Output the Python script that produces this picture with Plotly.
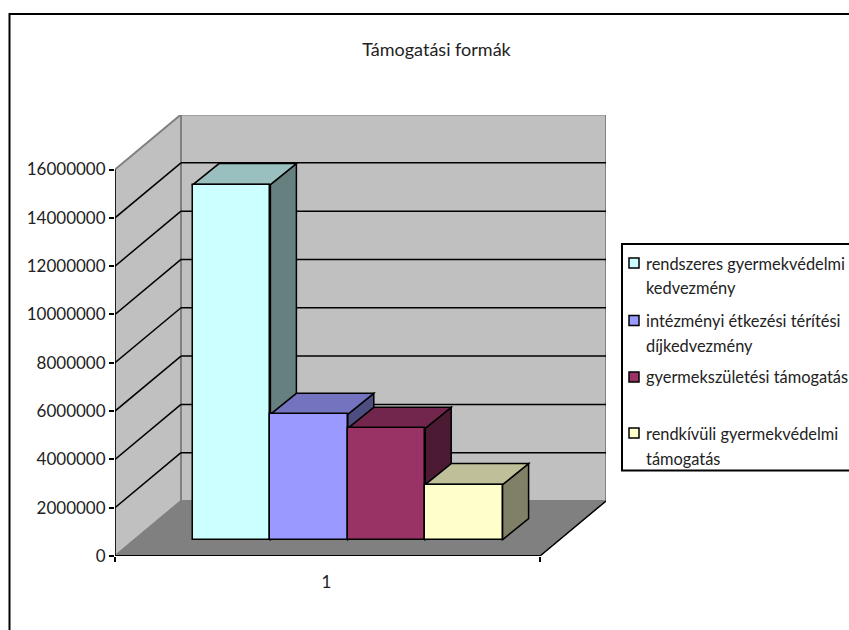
import plotly.graph_objects as go

# ---- data ----
title = "Támogatási formák"
category = "1"
series_names = [
    "rendszeres gyermekvédelmi<br>kedvezmény",
    "intézményi étkezési térítési<br>díjkedvezmény",
    "gyermekszületési támogatás",
    "rendkívüli gyermekvédelmi<br>támogatás",
]
series_values = [14700000, 5190000, 4610000, 2280000]
front_colors = ["#CCFFFF", "#9999FF", "#993366", "#FFFFCC"]
top_colors = ["#99BFBF", "#7373BF", "#73264D", "#BFBF99"]
side_colors = ["#668080", "#4D4D80", "#4D1A33", "#808066"]
y_ticks = [0, 2000000, 4000000, 6000000, 8000000, 10000000, 12000000, 14000000, 16000000]
legend_line_y = [[263, 287], [320.5, 345], [377], [433, 458]]

# ---- page layout (pixels in the window) ----
W, H = 849, 630
L, R, T, B = 115, 606, 115, 556
PX_PER_X = 425.0          # one category width
PX_PER_Y = 386.5 / 16e6   # pixels per value unit
FONT = "Lato"
TEXT = "#222222"
EDGE = "#000000"
GREY = "#808080"
LW = 1.5


def dx(px):
    return px / PX_PER_X


def dy(px):
    return px / PX_PER_Y


def poly(points, fill, line=EDGE, width=LW):
    path = "M" + " L".join(f"{x},{y}" for x, y in points) + " Z"
    return dict(type="path", xref="x", yref="y", path=path, fillcolor=fill, layer="below",
                line=dict(color=line, width=width))


def seg(x0, y0, x1, y1, color=EDGE, width=LW):
    return dict(type="line", xref="x", yref="y", x0=x0, y0=y0, x1=x1, y1=y1, layer="below",
                line=dict(color=color, width=width))


def px_x(p):
    return (p - L) / (R - L)


def px_y(p):
    return (B - p) / (B - T)


x_max = dx(R - L)
y_max = dy(B - T)
wall_dx, wall_dy = dx(66), dy(55)
top = y_ticks[-1]
shapes = []

# outer chart frame
shapes.append(dict(type="rect", xref="paper", yref="paper", layer="below",
                   x0=px_x(9.5), x1=px_x(W + 20), y0=px_y(H + 20), y1=px_y(14),
                   line=dict(color=EDGE, width=2), fillcolor="#FFFFFF"))
# walls and floor
shapes.append(poly([(0, 0), (wall_dx, wall_dy), (wall_dx, top + wall_dy), (0, top)], "#C0C0C0", GREY, 2))
shapes.append(poly([(wall_dx, wall_dy), (x_max, wall_dy), (x_max, top + wall_dy), (wall_dx, top + wall_dy)],
                   "#C0C0C0", GREY, 2))
shapes.append(poly([(0, 0), (1, 0), (1 + wall_dx, wall_dy), (wall_dx, wall_dy)], GREY, GREY, 1))
# gridlines running round the walls
for v in y_ticks[1:-1]:
    shapes.append(seg(0, v, wall_dx, v + wall_dy))
    shapes.append(seg(wall_dx, v + wall_dy, x_max, v + wall_dy))
# axis lines
shapes.append(seg(0, 0, 0, top))
shapes.append(seg(0, 0, 1, 0, EDGE, 2))
shapes.append(seg(1, 0, 1 + wall_dx, wall_dy))

# bars: front faces are bar traces, top and side faces follow from the same values
bar_w = dx(77.4)
bar_start = dx(193 - L)
bar_base = dy(556 - 539.7)
depth_x, depth_y = dx(26), dy(21)

fig = go.Figure()
for i, (name, val) in enumerate(zip(series_names, series_values)):
    x0 = bar_start + i * bar_w
    x1 = x0 + bar_w
    y0 = bar_base
    y1 = bar_base + val
    shapes.append(poly([(x1, y0), (x1 + depth_x, y0 + depth_y), (x1 + depth_x, y1 + depth_y), (x1, y1)],
                       side_colors[i]))
    shapes.append(poly([(x0, y1), (x1, y1), (x1 + depth_x, y1 + depth_y), (x0 + depth_x, y1 + depth_y)],
                       top_colors[i]))
    fig.add_trace(go.Bar(
        x=[(x0 + x1) / 2], y=[val], base=[y0], width=[bar_w],
        name=name.replace("<br>", " "), showlegend=False,
        marker=dict(color=front_colors[i], line=dict(color=EDGE, width=LW)),
    ))

# legend panel
annotations = []
box_l, box_t, box_b = 622, 244, 470.5

shapes.append(dict(type="rect", xref="paper", yref="paper", layer="below",
                   x0=px_x(box_l), x1=px_x(W + 20), y0=px_y(box_b), y1=px_y(box_t),
                   line=dict(color=EDGE, width=2), fillcolor="#FFFFFF"))
for i, name in enumerate(series_names):
    ys = legend_line_y[i]
    shapes.append(dict(type="rect", xref="paper", yref="paper", layer="below",
                       x0=px_x(629), x1=px_x(639), y0=px_y(ys[0] + 5), y1=px_y(ys[0] - 5),
                       fillcolor=front_colors[i], line=dict(color=EDGE, width=1.5)))
    for line_text, y in zip(name.split("<br>"), ys):
        annotations.append(dict(xref="paper", yref="paper", x=px_x(645), y=px_y(y),
                                xanchor="left", yanchor="middle", showarrow=False,
                                text=line_text, align="left", borderpad=0,
                                font=dict(family=FONT, size=16.4, color=TEXT)))

fig.update_layout(
    width=W, height=H, showlegend=False,
    paper_bgcolor="#FFFFFF", plot_bgcolor="rgba(0,0,0,0)",
    margin=dict(l=L, r=W - R, t=T, b=H - B, autoexpand=False),
    font=dict(family=FONT, size=17, color=TEXT),
    title=dict(text=title, xref="container", yref="container", x=436.5 / W, xanchor="center",
               y=1 - 50 / H, yanchor="middle", font=dict(family=FONT, size=18, color=TEXT)),
    shapes=shapes, annotations=annotations, bargap=0,
    xaxis=dict(range=[0, x_max], showgrid=False, zeroline=False, showline=False,
               tickmode="array", tickvals=[0.4975], ticktext=[category], ticks="", ticklen=0,
               ticklabelstandoff=14,
               minor=dict(tickmode="array", tickvals=[0, 1], ticks="outside", ticklen=5,
                          tickcolor=EDGE, tickwidth=LW, showgrid=False)),
    yaxis=dict(range=[0, y_max], showgrid=False, zeroline=False, showline=False,
               tickmode="array", tickvals=y_ticks, tickformat="d", ticks="outside", ticklen=5,
               tickcolor=EDGE, tickwidth=LW, ticklabelstandoff=0),
)

fig.write_html("out.html", config={"displayModeBar": False},
               post_script="document.body.style.margin='0';")
